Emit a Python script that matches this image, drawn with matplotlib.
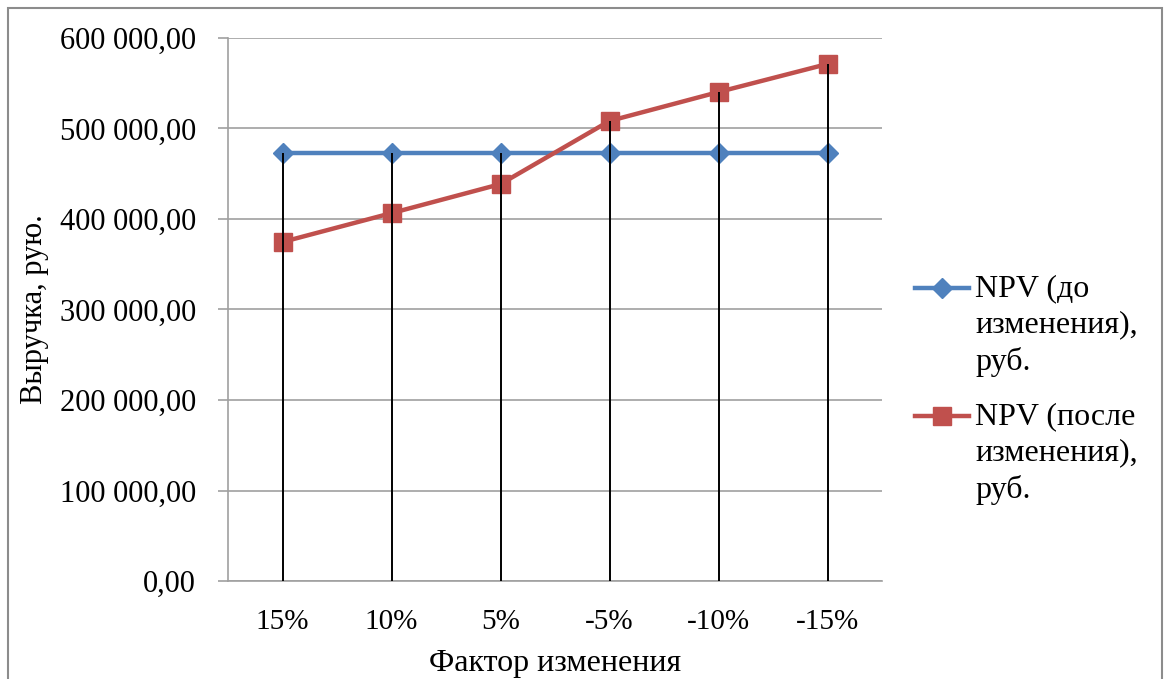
import matplotlib
matplotlib.use("Agg")
import matplotlib.pyplot as plt
from matplotlib.patches import Rectangle
from matplotlib.lines import Line2D

categories = ["15%", "10%", "5%", "-5%", "-10%", "-15%"]
npv_before = [472900, 472900, 472900, 472900, 472900, 472900]
npv_after = [374600, 406500, 438600, 508300, 540300, 571300]
y_ticks = [0, 100000, 200000, 300000, 400000, 500000, 600000]
y_tick_labels = ["0,00", "100 000,00", "200 000,00", "300 000,00",
                 "400 000,00", "500 000,00", "600 000,00"]
label_before = "NPV (до\nизменения),\nруб."
label_after = "NPV (после\nизменения),\nруб."

BLUE = "#4F81BD"
RED = "#C0504D"
W, H = 1164, 679

plt.rcParams['font.family'] = ['Liberation Serif', 'DejaVu Serif']

fig = plt.figure(figsize=(W/100, H/100), dpi=100)
ax = fig.add_axes([228/W, 1-581/H, 654/W, 543/H])

x = list(range(len(categories)))
ax.plot(x, npv_before, color=BLUE, lw=3.2, marker="D", ms=10,
        mec=BLUE, mfc=BLUE, zorder=3)
ax.plot(x, npv_after, color=RED, lw=3.2, marker="s", ms=13,
        mec=RED, mfc=RED, zorder=3)

tops = [max(a, b) for a, b in zip(npv_before, npv_after)]
ax.vlines(x, 0, tops, colors="black", lw=1.4, zorder=4)

ax.set_xlim(-0.5, len(categories) - 0.5)
ax.set_ylim(0, 600000)
ax.set_yticks(y_ticks)
ax.set_yticklabels(y_tick_labels, fontsize=22)
ax.set_xticks(x)
ax.set_xticklabels(categories, fontsize=21)
ax.tick_params(axis="x", length=0, pad=20)
ax.tick_params(axis="y", length=7, color="#A0A0A0", width=1.2, pad=16)
ax.grid(axis="y", color="#A0A0A0", lw=1.2)
ax.set_axisbelow(True)
for s in ["top", "right"]:
    ax.spines[s].set_visible(False)
for s in ["left", "bottom"]:
    ax.spines[s].set_color("#A0A0A0")
    ax.spines[s].set_linewidth(1.2)

ax.set_xlabel("Фактор изменения", fontsize=23, labelpad=10)
ax.set_ylabel("Выручка, рую.", fontsize=22, labelpad=8)

# manual legend (handle aligned with first text line, as in the reference)
def px(xp, yp):
    return xp / W, 1 - yp / H

for yline, color, marker, ms, label in [
        (288, BLUE, "D", 10, label_before),
        (416, RED, "s", 13, label_after)]:
    x0, y0 = px(915, yline)
    x1, _ = px(969, yline)
    fig.add_artist(Line2D([x0, x1], [y0, y0], transform=fig.transFigure,
                          color=color, lw=3.2))
    fig.add_artist(Line2D([(x0 + x1) / 2], [y0], transform=fig.transFigure,
                          color=color, marker=marker, ms=ms, mec=color, mfc=color))
    tx, ty = px(975, yline - 14)
    fig.text(tx, ty, label, fontsize=23, va="top", ha="left", linespacing=1.34)

fig.patches.append(Rectangle((8/W, -0.05), 1154/W, 1 - 8/H + 0.05,
                             transform=fig.transFigure, fill=False,
                             edgecolor="#8C8C8C", lw=1.5))

fig.savefig("out.png", dpi=100)
